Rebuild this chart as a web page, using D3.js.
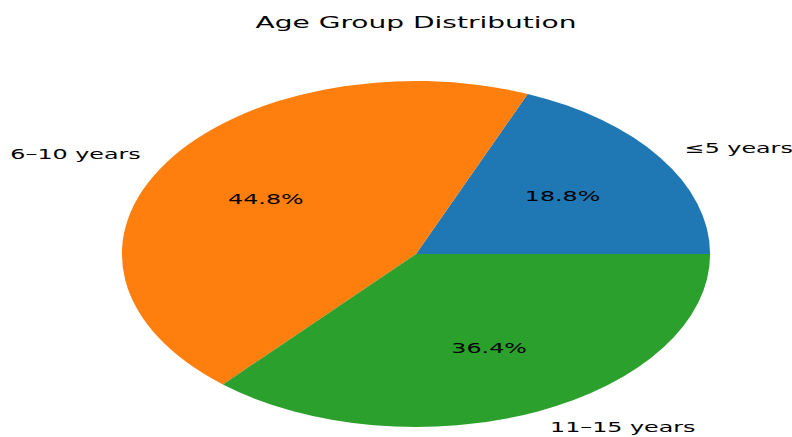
<html>
<head>
<script src="https://cdn.jsdelivr.net/npm/d3@7"></script>
<style>
  body { margin: 0; background: #fff; }
  text { font-family: "DejaVu Sans", sans-serif; fill: #000; }
</style>
</head>
<body>
<svg id="container" width="792" height="437"></svg>
<script>
    // chart data
    let groups = ["\u22645 years", "6\u201310 years", "11\u201315 years"]
    let shares = [18.8, 44.8, 36.4]
    let colors = ["#1f77b4", "#ff7f0e", "#2ca02c"]
    let title = "Age Group Distribution"

    let svg = d3.select("#container")

    // the picture is stretched sideways, so the pie is drawn round and scaled
    let stretch = 1.7
    let radius = 173

    svg.append("text")
        .attr("transform", "translate(416,28) scale(" + stretch + ",1)")
        .attr("text-anchor", "middle")
        .style("font-size", "16.5px")
        .text(title)

    let body = svg.append("g")
        .attr("transform", "translate(416,254) scale(" + stretch + ",1)")

    // start at 3 o'clock and go counter-clockwise like matplotlib
    let pie = d3.pie().sort(null)
        .startAngle(Math.PI / 2)
        .endAngle(Math.PI / 2 - 2 * Math.PI)

    let arcs = pie(shares)

    let arc = d3.arc().innerRadius(0).outerRadius(radius)
    let labelArc = d3.arc().innerRadius(radius * 1.1).outerRadius(radius * 1.1)
    let pctArc = d3.arc().innerRadius(radius * 0.6).outerRadius(radius * 0.6)

    body.selectAll("path")
        .data(arcs)
        .enter().append("path")
        .attr("d", arc)
        .attr("fill", (d, i) => colors[i])

    body.selectAll(".label")
        .data(arcs)
        .enter().append("text")
        .attr("class", "label")
        .attr("x", d => labelArc.centroid(d)[0])
        .attr("y", d => labelArc.centroid(d)[1])
        .attr("text-anchor", d => labelArc.centroid(d)[0] > 0 ? "start" : "end")
        .attr("dominant-baseline", "central")
        .style("font-size", "14px")
        .text((d, i) => groups[i])

    body.selectAll(".pct")
        .data(arcs)
        .enter().append("text")
        .attr("class", "pct")
        .attr("x", d => pctArc.centroid(d)[0])
        .attr("y", d => pctArc.centroid(d)[1])
        .attr("text-anchor", "middle")
        .attr("dominant-baseline", "central")
        .style("font-size", "14px")
        .text(d => d.data.toFixed(1) + "%")
</script>
</body>
</html>
